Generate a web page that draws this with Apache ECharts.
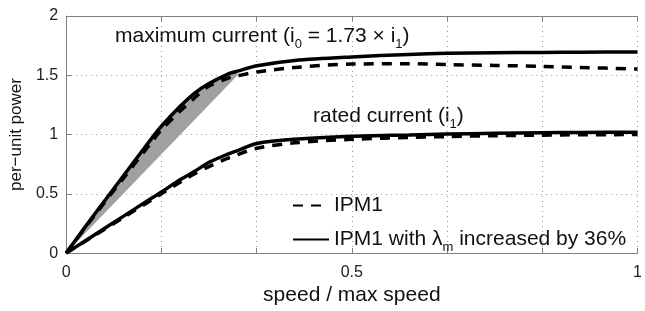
<!DOCTYPE html>
<html>
<head>
<meta charset="utf-8">
<script src="https://cdn.jsdelivr.net/npm/echarts@6/dist/echarts.min.js"></script>
<style>
  html, body { margin: 0; padding: 0; background: #fff; }
  #chart { width: 645px; height: 311px; }
</style>
</head>
<body>
<div id="chart"></div>
<script>
// speed / max speed
const speed = [0, 0.05, 0.1, 0.15, 0.1667, 0.2, 0.225, 0.25, 0.283, 0.3, 0.334, 0.4, 0.5, 0.6, 0.667, 0.75, 0.833, 0.9, 1]

// per-unit power
const maxSolid   = [0, 0.33, 0.65, 0.97, 1.07, 1.24, 1.35, 1.43, 1.51, 1.535, 1.58, 1.625, 1.655, 1.675, 1.685, 1.69, 1.693, 1.695, 1.697]
const maxDashed  = [0, 0.32, 0.63, 0.94, 1.04, 1.2, 1.31, 1.41, 1.475, 1.495, 1.528, 1.565, 1.595, 1.597, 1.59, 1.583, 1.575, 1.566, 1.553]
const ratedSolid = [0, 0.155, 0.31, 0.465, 0.515, 0.62, 0.69, 0.765, 0.835, 0.865, 0.925, 0.96, 0.985, 0.997, 1.005, 1.01, 1.015, 1.018, 1.02]
const ratedDashed = [0, 0.15, 0.3, 0.45, 0.5, 0.6, 0.67, 0.73, 0.8, 0.83, 0.885, 0.93, 0.96, 0.975, 0.983, 0.99, 0.995, 0.998, 1.0]

// grey band: under the max-current curve, down to a straight edge
const shadeEnd = 0.3
const shadeLower = [[0.3, 1.5], [0, 0]]

const nameDashed = 'IPM1'
const nameSolid = 'IPM1 with λm increased by 36%'

const font = 'Liberation Sans'

const pairs = (ys) => speed.map((s, i) => [s, ys[i]])

const shadePoly = pairs(maxSolid).filter(p => p[0] <= shadeEnd + 1e-9).concat(shadeLower)

function xLabel(v) {
  const r = Math.round(v * 6)
  if (r === 0) return '0'
  if (r === 3) return '0.5'
  if (r === 6) return '1'
  return ''
}

const gridLine = { show: true, lineStyle: { color: '#9a9a9a', type: [1, 4], width: 1 } }
const axisLine = { show: true, lineStyle: { color: '#808080', width: 1 } }
const subStyle = { fontSize: 13, fontFamily: font, color: '#111', fill: '#111', verticalAlign: 'bottom', lineHeight: 10, padding: [0, 0, -4, 0] }

const lineSeries = (name, ys, dashed) => ({
  name: name,
  type: 'line',
  data: pairs(ys),
  symbol: 'none',
  smooth: 0.3,
  lineStyle: { color: '#000', width: 3.5, type: dashed ? [10, 8] : 'solid' },
  itemStyle: { color: '#000' },
  z: 3
})

const option = {
  animation: false,
  backgroundColor: '#fff',
  textStyle: { fontFamily: font },
  grid: { left: 62, right: 0, top: 16, bottom: 49 },
  xAxis: [
    {
      type: 'value', min: 0, max: 1, interval: 1 / 6,
      axisLine: axisLine,
      axisTick: { show: true, inside: true, length: 5, lineStyle: { color: '#808080' } },
      splitLine: gridLine,
      axisLabel: { formatter: xLabel, color: '#222', fontSize: 16, margin: 11, fontFamily: font },
      name: 'speed / max speed', nameLocation: 'middle', nameGap: 29,
      nameTextStyle: { color: '#111', fontSize: 21, fontFamily: font }
    },
    {
      type: 'value', min: 0, max: 1, interval: 1 / 6, position: 'top',
      axisLine: axisLine,
      axisTick: { show: true, inside: true, length: 5, lineStyle: { color: '#808080' } },
      splitLine: { show: false },
      axisLabel: { show: false }
    }
  ],
  yAxis: {
    type: 'value', min: 0, max: 2, interval: 0.5,
    axisLine: axisLine,
    axisTick: { show: true, inside: true, length: 5, lineStyle: { color: '#808080' } },
    splitLine: gridLine,
    axisLabel: { color: '#222', fontSize: 16, margin: 8, fontFamily: font },
    name: 'per\u2212unit power', nameLocation: 'middle', nameGap: 36, nameRotate: 90,
    nameTextStyle: { color: '#111', fontSize: 17, fontFamily: font }
  },
  legend: {
    orient: 'vertical',
    left: 287, top: 190,
    itemWidth: 36, itemHeight: 14, itemGap: 13,
    itemStyle: { opacity: 0 },
    data: [nameDashed, nameSolid],
    formatter: (n) => n === nameSolid ? 'IPM1 with {g|\u03bb}{s|m} increased by 36%' : n,
    textStyle: {
      color: '#111', fontSize: 21, fontFamily: font, padding: [0, 0, 0, 0],
      rich: {
        g: { fontSize: 21, fontFamily: font, color: '#111' },
        s: subStyle
      }
    }
  },
  graphic: [
    {
      type: 'text', left: 115, top: 26,
      style: {
        text: 'maximum current (i{s|0} = 1.73 \u00d7 i{s|1})',
        font: '21px ' + font, fill: '#111',
        rich: { s: subStyle }
      }
    },
    {
      type: 'text', left: 313, top: 106,
      style: {
        text: 'rated current (i{s|1})',
        font: '21px ' + font, fill: '#111',
        rich: { s: subStyle }
      }
    }
  ],
  series: [
    {
      name: 'shade',
      type: 'custom',
      data: [0],
      renderItem: (params, api) => ({
        type: 'polygon',
        shape: { points: shadePoly.map(p => api.coord(p)) },
        style: { fill: '#a0a0a0' }
      }),
      z: 1,
      silent: true
    },
    lineSeries(nameDashed, maxDashed, true),
    lineSeries(nameSolid, maxSolid, false),
    lineSeries(nameDashed, ratedDashed, true),
    lineSeries(nameSolid, ratedSolid, false)
  ]
}

const myChart = echarts.init(document.getElementById('chart'))
myChart.setOption(option)
</script>
</body>
</html>
